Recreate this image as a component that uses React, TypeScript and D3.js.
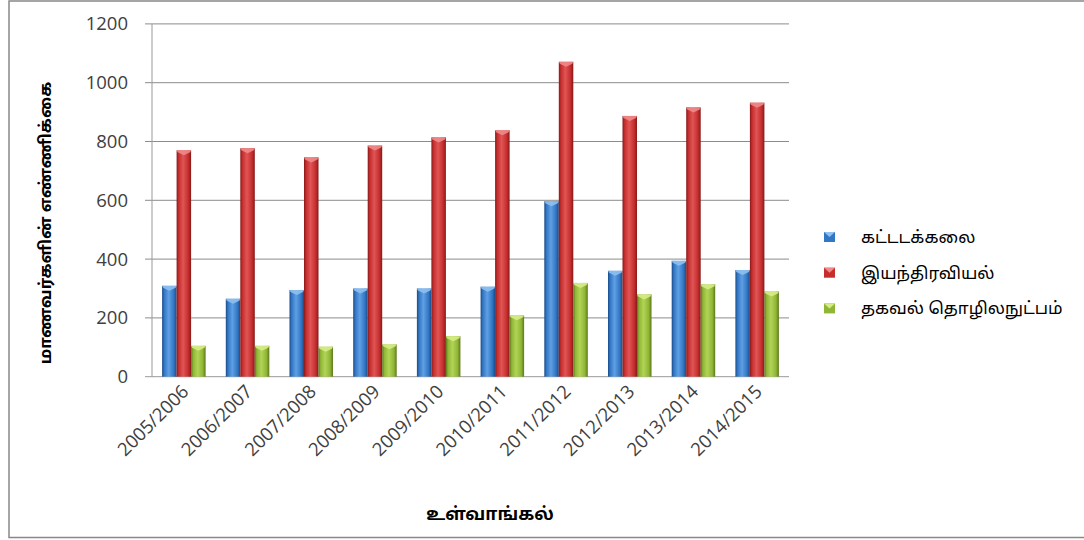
import React from "react";
import * as d3 from "d3";

const categories = [
  "2005/2006", "2006/2007", "2007/2008", "2008/2009", "2009/2010",
  "2010/2011", "2011/2012", "2012/2013", "2013/2014", "2014/2015",
];
const seriesNames = ["கட்டடக்கலை", "இயந்திரவியல்", "தகவல் தொழிலநுட்பம்"];
const architecture = [309, 265, 295, 300, 300, 306, 597, 360, 394, 363];
const mechanical = [770, 777, 746, 786, 814, 838, 1071, 887, 916, 932];
const infoTech = [105, 105, 102, 110, 138, 209, 319, 280, 314, 290];
const yTicks = [0, 200, 400, 600, 800, 1000, 1200];
const yTitle = "மாணவர்களின் எண்ணிக்கை";
const xTitle = "உள்வாங்கல்";

const seriesValues = [architecture, mechanical, infoTech];
const palette = [
  { base: "#3277c4", light: "#5f9fe4", dark: "#1c4a88", cap: "#8fc0f0" },
  { base: "#c62e2e", light: "#e05555", dark: "#861a1a", cap: "#f08a8a" },
  { base: "#90b636", light: "#b2d456", dark: "#5c781c", cap: "#d6ec86" },
];

export default function App() {
  const W = 1084, H = 540;
  const left = 152, right = 789, top = 23.9, bottom = 376.7;
  const x0 = d3.scaleBand<string>().domain(categories).range([left, right])
    .paddingInner(0.317).paddingOuter(0.1585);
  const x1 = d3.scaleBand<number>().domain([0, 1, 2]).range([0, x0.bandwidth()]).padding(0);
  const y = d3.scaleLinear().domain([0, 1200]).range([bottom, top]);
  const font = "'Open Sans', sans-serif";
  const tamil = "'Noto Sans Tamil', 'Latha', 'Noto Sans', sans-serif";

  return (
    <svg width={W} height={H} style={{ position: "absolute", left: 0, top: 0, background: "#fff" }}>
      <defs>
        {palette.map((p, i) => (
          <linearGradient key={i} id={`g${i}`} x1="0" x2="1" y1="0" y2="0">
            <stop offset="0" stopColor={p.dark} />
            <stop offset="0.15" stopColor={p.base} />
            <stop offset="0.45" stopColor={p.light} />
            <stop offset="0.8" stopColor={p.base} />
            <stop offset="1" stopColor={p.dark} />
          </linearGradient>
        ))}
      </defs>
      <rect x={9} y={1} width={W + 10} height={536.5} fill="#fff" stroke="#888" strokeWidth={1.5} />

      {yTicks.map((t) => (
        <g key={t}>
          <line x1={left - 7} x2={right} y1={y(t)} y2={y(t)} stroke={t === 0 ? "#999" : "#8c8c8c"} strokeWidth={1} />
          <text x={128} y={y(t)} dy="0.35em" textAnchor="end" fontFamily={font} fontSize={18.5} fill="#404040">{t}</text>
        </g>
      ))}
      <line x1={left} x2={left} y1={top} y2={bottom} stroke="#999" strokeWidth={1} />

      {categories.map((c, ci) => (
        <g key={c}>
          {seriesValues.map((vals, si) => {
            const bx = (x0(c) as number) + (x1(si) as number);
            const bw = x1.bandwidth();
            const by = y(vals[ci]);
            const p = palette[si];
            return (
              <g key={si}>
                <rect x={bx} y={by} width={bw} height={bottom - by} fill={`url(#g${si})`} />
                <polygon
                  points={`${bx},${by} ${bx + bw},${by} ${bx + bw - 1},${by + 2} ${bx + bw / 2},${by + 5} ${bx + 1},${by + 2}`}
                  fill={p.cap}
                  opacity={0.9}
                />
              </g>
            );
          })}
          <text
            transform={`translate(${(x0(c) as number) + x0.bandwidth() / 2 + 6},${bottom + 16}) rotate(-45)`}
            textAnchor="end"
            fontFamily={font}
            fontSize={18.5}
            fill="#404040"
          >{c}</text>
        </g>
      ))}

      <text transform={`translate(51,223) rotate(-90)`} textAnchor="middle" fontFamily={tamil} fontWeight="bold" fontSize={16.5} fill="#000">{yTitle}</text>
      <text x={490} y={520} textAnchor="middle" fontFamily={tamil} fontWeight="bold" fontSize={17.5} fill="#000">{xTitle}</text>

      {seriesNames.map((n, i) => {
        const ly = 237 + i * 35.7;
        const p = palette[i];
        return (
          <g key={n}>
            <rect x={824} y={ly - 5} width={11} height={10} fill={p.base} />
            <polygon points={`${824},${ly - 5} ${835},${ly - 5} ${829.5},${ly}`} fill={p.cap} />
            <text x={861} y={ly} dy="0.35em" fontFamily={tamil} fontSize={17} fill="#000">{n}</text>
          </g>
        );
      })}
    </svg>
  );
}
